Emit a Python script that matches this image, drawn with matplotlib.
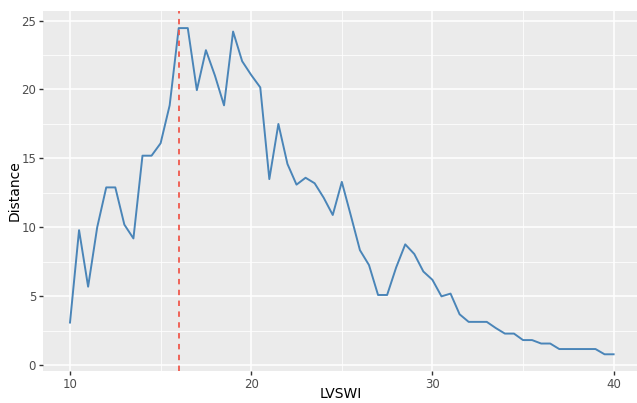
import matplotlib
matplotlib.use("Agg")
import matplotlib.pyplot as plt
import numpy as np

lvswi = [10, 10.5, 11, 11.5, 12, 12.5, 13, 13.5, 14, 14.5, 15, 15.5, 16, 16.5, 17, 17.5,
         18, 18.5, 19, 19.5, 20, 20.5, 21, 21.5, 22, 22.5, 23, 23.5, 24, 24.5, 25, 25.5,
         26, 26.5, 27, 27.5, 28, 28.5, 29, 29.5, 30, 30.5, 31, 31.5, 32, 32.5, 33, 33.5,
         34, 34.5, 35, 35.5, 36, 36.5, 37, 37.5, 38, 38.5, 39, 39.5, 40]
distance = [3.1, 9.8, 5.7, 10.0, 12.9, 12.9, 10.2, 9.2, 15.2, 15.2, 16.1, 18.85, 24.45, 24.45, 19.95, 22.85,
            21.0, 18.85, 24.2, 22.05, 21.05, 20.15, 13.5, 17.5, 14.6, 13.1, 13.6, 13.2, 12.15, 10.9, 13.3, 10.85,
            8.35, 7.27, 5.1, 5.1, 7.1, 8.77, 8.07, 6.8, 6.2, 5.0, 5.2, 3.7, 3.15, 3.15, 3.15, 2.7,
            2.3, 2.3, 1.83, 1.83, 1.58, 1.58, 1.18, 1.18, 1.18, 1.18, 1.18, 0.8, 0.8]
cutoff = 16
x_ticks = [10, 20, 30, 40]
y_ticks = [0, 5, 10, 15, 20, 25]

fig = plt.figure(figsize=(6.37, 4.03), dpi=100)
ax = fig.add_axes([43/637, 32.3/403, 1 - 43/637, (370.7 - 11)/403])
ax.set_facecolor("#EBEBEB")
for s in ax.spines.values():
    s.set_visible(False)

ax.set_xlim(8.51, 41.29)
ax.set_ylim(-0.39, 25.69)
ax.set_xticks(x_ticks)
ax.set_yticks(y_ticks)
ax.set_xticks([15, 25, 35], minor=True)
ax.set_yticks([2.5, 7.5, 12.5, 17.5, 22.5], minor=True)
ax.grid(which="major", color="white", linewidth=1.1)
ax.grid(which="minor", color="white", linewidth=0.55)
ax.set_axisbelow(True)
ax.tick_params(which="major", length=3, width=1, color="#333333", labelcolor="#4D4D4D",
               labelsize=8.5, pad=2)
ax.tick_params(which="minor", length=0)

ax.plot(lvswi, distance, color="#4A85B8", linewidth=1.4)
ax.axvline(cutoff, color="#F0584C", linewidth=1.3, linestyle=(0, (3, 3)))

fig.text(341/637, 2/403, "LVSWI", fontsize=10, color="black", ha="center", va="bottom")
fig.text(15/637, 1 - 191/403, "Distance", fontsize=10, color="black", ha="center",
         va="center", rotation=90)

fig.savefig("out.png", dpi=100)
